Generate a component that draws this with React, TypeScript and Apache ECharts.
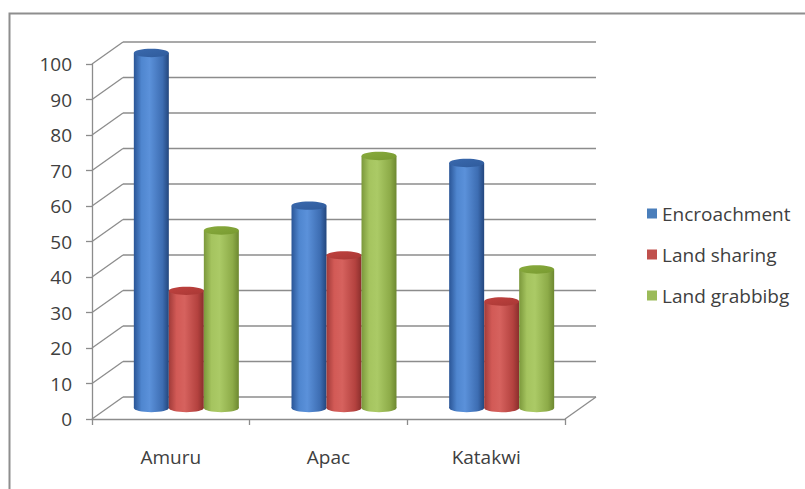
import React, { useEffect, useRef } from "react";
import * as echarts from "echarts";

// Chart data
const CATEGORIES = ["Amuru", "Apac", "Katakwi"];
const SERIES_NAMES = ["Encroachment", "Land sharing", "Land grabbibg"];
const ENCROACHMENT = [100, 57, 69];
const LAND_SHARING = [33, 43, 30];
const LAND_GRABBING = [50, 71, 39];
const Y_TICKS = [0, 10, 20, 30, 40, 50, 60, 70, 80, 90, 100];

// 3D look: back wall offset relative to the front plane
const DEPTH_X = 31;
const DEPTH_Y = -22;
const BAR_RATIO = 0.222;

const FONT = "'Open Sans', 'Noto Sans', sans-serif";
const LINE = "#8c8c8c";
const TEXT = "#404040";

const PALETTE = [
  {
    legend: "#4a7ebb",
    body: ["#2a5596", "#4f86cf", "#5b91da", "#3d6db2", "#23467d"],
    top: ["#3a69ad", "#2f5b9c"],
  },
  {
    legend: "#c0504d",
    body: ["#a13b39", "#d25a56", "#d6625e", "#b4423f", "#8a2e2c"],
    top: ["#c0423f", "#a83835"],
  },
  {
    legend: "#9bbb59",
    body: ["#7b983b", "#a5c45f", "#abca66", "#8dab48", "#6d8830"],
    top: ["#89ab3e", "#789a30"],
  },
];

const bodyGradient = (c: string[]) => ({
  type: "linear",
  x: 0,
  y: 0,
  x2: 1,
  y2: 0,
  colorStops: [
    { offset: 0, color: c[0] },
    { offset: 0.22, color: c[1] },
    { offset: 0.45, color: c[2] },
    { offset: 0.82, color: c[3] },
    { offset: 1, color: c[4] },
  ],
});

const topGradient = (c: string[]) => ({
  type: "linear",
  x: 0,
  y: 0,
  x2: 1,
  y2: 1,
  colorStops: [
    { offset: 0, color: c[0] },
    { offset: 1, color: c[1] },
  ],
});

function cylinderSeries(name: string, values: number[], idx: number) {
  const pal = PALETTE[idx];
  return {
    type: "custom",
    name,
    itemStyle: { color: pal.legend },
    z: 3,
    data: values.map((v, i) => [i, v]),
    renderItem: (params: any, api: any) => {
      const cat = api.value(0);
      const v = api.value(1);
      const top = api.coord([cat, v]);
      const base = api.coord([cat, 0]);
      const band = api.size([1, 0])[0];
      const bw = band * BAR_RATIO;
      const rx = bw / 2;
      const ry = bw * 0.12;
      const cx = top[0] + (idx - 1) * bw + DEPTH_X / 2;
      const yTop = top[1] + DEPTH_Y / 2;
      const yBot = base[1] + DEPTH_Y / 2;
      return {
        type: "group",
        children: [
          {
            type: "ellipse",
            shape: { cx, cy: yBot, rx, ry },
            style: { fill: bodyGradient(pal.body) },
          },
          {
            type: "rect",
            shape: { x: cx - rx, y: yTop, width: bw, height: yBot - yTop },
            style: { fill: bodyGradient(pal.body) },
          },
          {
            type: "ellipse",
            shape: { cx, cy: yTop, rx, ry },
            style: { fill: topGradient(pal.top) },
          },
        ],
      };
    },
  };
}

// Back wall gridlines, left side wall diagonals and the floor's right edge
const wallSeries = {
  type: "custom",
  name: "walls",
  z: 1,
  silent: true,
  data: Y_TICKS.map((v) => [0, v]),
  renderItem: (params: any, api: any) => {
    const cs = params.coordSys;
    const v = api.value(1);
    const y = api.coord([0, v])[1];
    const x0 = cs.x;
    const x1 = cs.x + cs.width;
    const style = { stroke: LINE, lineWidth: 1.3, fill: null };
    const children: any[] = [
      {
        type: "line",
        shape: { x1: x0, y1: y, x2: x0 + DEPTH_X, y2: y + DEPTH_Y },
        style,
      },
      {
        type: "line",
        shape: { x1: x0 + DEPTH_X, y1: y + DEPTH_Y, x2: x1 + DEPTH_X, y2: y + DEPTH_Y },
        style,
      },
    ];
    if (v === 0) {
      children.push({
        type: "line",
        shape: { x1: x1, y1: y, x2: x1 + DEPTH_X, y2: y + DEPTH_Y },
        style,
      });
    }
    return { type: "group", children };
  },
};

export default function App() {
  const ref = useRef<HTMLDivElement>(null);

  useEffect(() => {
    if (!ref.current) return;
    const chart = echarts.init(ref.current, undefined, { renderer: "svg" });
    chart.setOption({
      animation: false,
      backgroundColor: "#ffffff",
      grid: { left: 92, right: 240, top: 64, bottom: 70 },
      graphic: [
        {
          type: "rect",
          left: 7,
          top: 11,
          shape: { width: 830, height: 520 },
          style: { fill: null, stroke: "#8e8e8e", lineWidth: 2 },
          z: 0,
        },
      ],
      legend: {
        orient: "vertical",
        left: 642,
        top: 199,
        itemWidth: 10,
        itemHeight: 10,
        itemGap: 22,
        icon: "rect",
        data: SERIES_NAMES,
        textStyle: { fontFamily: FONT, fontSize: 19, color: TEXT },
      },
      xAxis: {
        type: "category",
        data: CATEGORIES,
        boundaryGap: true,
        axisLine: { show: true, lineStyle: { color: LINE, width: 1.3 } },
        axisTick: { show: true, length: 6, lineStyle: { color: LINE, width: 1.3 } },
        axisLabel: { fontFamily: FONT, fontSize: 19, color: TEXT, margin: 28 },
        splitLine: { show: false },
      },
      yAxis: {
        type: "value",
        min: 0,
        max: 100,
        interval: 10,
        axisLine: { show: true, lineStyle: { color: LINE, width: 1.3 } },
        axisTick: { show: true, length: 6, lineStyle: { color: LINE, width: 1.3 } },
        axisLabel: { fontFamily: FONT, fontSize: 19, color: TEXT, margin: 20 },
        splitLine: { show: false },
      },
      series: [
        wallSeries,
        cylinderSeries(SERIES_NAMES[0], ENCROACHMENT, 0),
        cylinderSeries(SERIES_NAMES[1], LAND_SHARING, 1),
        cylinderSeries(SERIES_NAMES[2], LAND_GRABBING, 2),
      ],
    });
    return () => chart.dispose();
  }, []);

  return (
    <div
      ref={ref}
      style={{ position: "fixed", left: 0, top: 0, width: 805, height: 489 }}
    />
  );
}
